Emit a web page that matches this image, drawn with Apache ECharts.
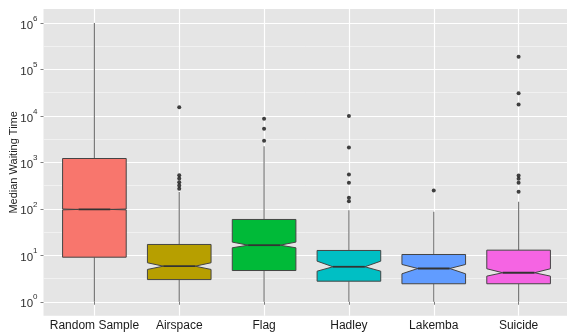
<!DOCTYPE html>
<html>
<head>
<meta charset="utf-8">
<script src="https://cdn.jsdelivr.net/npm/echarts@6/dist/echarts.min.js"></script>
<style>
  html, body { margin: 0; padding: 0; background: #ffffff; }
  #chart { width: 567px; height: 333px; }
</style>
</head>
<body>
<div id="chart"></div>
<script>
// Median waiting times per source, five-number summaries with notch bounds
const categories     = ['Random Sample', 'Airspace', 'Flag', 'Hadley', 'Lakemba', 'Suicide'];
const whiskerLow     = [1, 1, 1, 1, 1, 1];
const lowerQuartile  = [9.1, 3.0, 4.7, 2.77, 2.44, 2.44];
const notchLow       = [95, 4.96, 14.5, 4.55, 4.0, 3.56];
const medians        = [97, 5.83, 16.5, 5.66, 5.2, 4.21];
const notchHigh      = [99, 6.9, 19.2, 7.48, 6.35, 5.13];
const upperQuartile  = [1210, 17.1, 59, 12.7, 10.4, 12.9];
const whiskerHigh    = [1000000, 229, 2230, 93.5, 86.5, 142];
const outliers = [
  [],
  [269, 316, 372, 447, 525, 15400],
  [2900, 5300, 8700],
  [146, 172, 363, 550, 2090, 10000],
  [248],
  [233, 364, 444, 522, 17600, 30800, 187000]
];
const yTickExponents  = [0, 1, 2, 3, 4, 5, 6];
const yMinorExponents = [0.5, 1.5, 2.5, 3.5, 4.5, 5.5];

const fills = ['#F8766D', '#B79F00', '#00BA38', '#00BFC4', '#619CFF', '#F564E3'];
const FONT = '"Liberation Sans", Arial, Helvetica, sans-serif';
const lg = Math.log10;

const boxData = categories.map((c, i) => [
  i + 1,
  lg(whiskerLow[i]), lg(lowerQuartile[i]), lg(notchLow[i]), lg(medians[i]),
  lg(notchHigh[i]), lg(upperQuartile[i]), lg(whiskerHigh[i])
]);

const outlierData = [];
outliers.forEach((list, i) => list.forEach(v => outlierData.push([i + 1, lg(v)])));

const HALF = 0.375;      // half box width in category units
const NOTCH = 0.5;       // notch width relative to box width

function renderBox(params, api) {
  const x = api.value(0);
  const wlo = api.value(1), q1 = api.value(2), nlo = api.value(3), med = api.value(4),
        nhi = api.value(5), q3 = api.value(6), whi = api.value(7);
  const xl = x - HALF, xr = x + HALF;
  const inset = HALF * 2 * (1 - NOTCH) / 2;
  const c = (a, b) => api.coord([a, b]);
  const whiskerStyle = { stroke: '#7a7a7a', lineWidth: 1.2 };
  const pts = [
    c(xl, q3), c(xl, nhi), c(xl + inset, med), c(xl, nlo), c(xl, q1),
    c(xr, q1), c(xr, nlo), c(xr - inset, med), c(xr, nhi), c(xr, q3)
  ];
  const top = c(x, whi), bottom = c(x, wlo), boxTop = c(x, q3), boxBottom = c(x, q1);
  const ml = c(xl + inset, med), mr = c(xr - inset, med);
  return {
    type: 'group',
    children: [
      { type: 'line', shape: { x1: top[0], y1: top[1], x2: boxTop[0], y2: boxTop[1] }, style: whiskerStyle },
      { type: 'line', shape: { x1: bottom[0], y1: bottom[1], x2: boxBottom[0], y2: boxBottom[1] }, style: whiskerStyle },
      { type: 'polygon', shape: { points: pts },
        style: { fill: fills[params.dataIndex], stroke: '#444444', lineWidth: 1 } },
      { type: 'line', shape: { x1: ml[0], y1: ml[1], x2: mr[0], y2: mr[1] },
        style: { stroke: '#333333', lineWidth: 1.8 } }
    ]
  };
}

const chart = echarts.init(document.getElementById('chart'), null, { renderer: 'canvas' });
chart.setOption({
  animation: false,
  backgroundColor: '#ffffff',
  textStyle: { fontFamily: FONT },
  grid: {
    left: 43.5, top: 9, width: 526, height: 306.7,
    outerBoundsMode: 'none', containLabel: false,
    show: true, backgroundColor: '#E5E5E5', borderWidth: 0
  },
  xAxis: {
    type: 'value', min: 0.4, max: 6.6,
    axisLine: { show: false },
    axisTick: { show: true, length: 3, customValues: [1, 2, 3, 4, 5, 6], lineStyle: { color: '#7f7f7f' } },
    axisLabel: {
      customValues: [1, 2, 3, 4, 5, 6], margin: 4,
      formatter: v => categories[Math.round(v) - 1],
      fontSize: 12, color: '#1a1a1a', fontFamily: FONT
    },
    splitLine: { show: true, lineStyle: { color: '#ffffff', width: 1.2 } }
  },
  yAxis: [{
    type: 'value', min: -0.3, max: 6.3,
    axisLine: { show: false },
    axisTick: { show: true, length: 3, customValues: yTickExponents, lineStyle: { color: '#7f7f7f' } },
    axisLabel: {
      customValues: yTickExponents, margin: 6,
      formatter: v => '{h| }{b|10}{s|' + Math.round(v) + '}',
      rich: {
        h: { fontSize: 1, lineHeight: 17 },
        b: { fontSize: 11.5, color: '#2e2e2e', lineHeight: 12, verticalAlign: 'bottom', fontFamily: FONT },
        s: { fontSize: 8, color: '#2e2e2e', lineHeight: 11.6, verticalAlign: 'top', fontFamily: FONT }
      }
    },
    splitLine: { show: true, lineStyle: { color: '#ffffff', width: 1.2 } },
    name: 'Median Waiting Time', nameLocation: 'middle', nameGap: 24, nameMoveOverlap: false,
    nameTextStyle: { fontSize: 11, color: '#222222', fontFamily: FONT }
  }, {
    type: 'value', min: -0.3, max: 6.3,
    axisLine: { show: false },
    axisTick: { show: false, customValues: yMinorExponents },
    axisLabel: { show: false, customValues: yMinorExponents },
    splitLine: { show: true, lineStyle: { color: '#F4F4F4', width: 0.8 } }
  }],
  series: [{
    type: 'custom',
    renderItem: renderBox,
    data: boxData,
    encode: { x: 0, y: [1, 7] },
    z: 2
  }, {
    type: 'scatter',
    data: outlierData,
    symbol: 'circle',
    symbolSize: 4,
    itemStyle: { color: '#111111' },
    z: 3
  }]
});
</script>
</body>
</html>
